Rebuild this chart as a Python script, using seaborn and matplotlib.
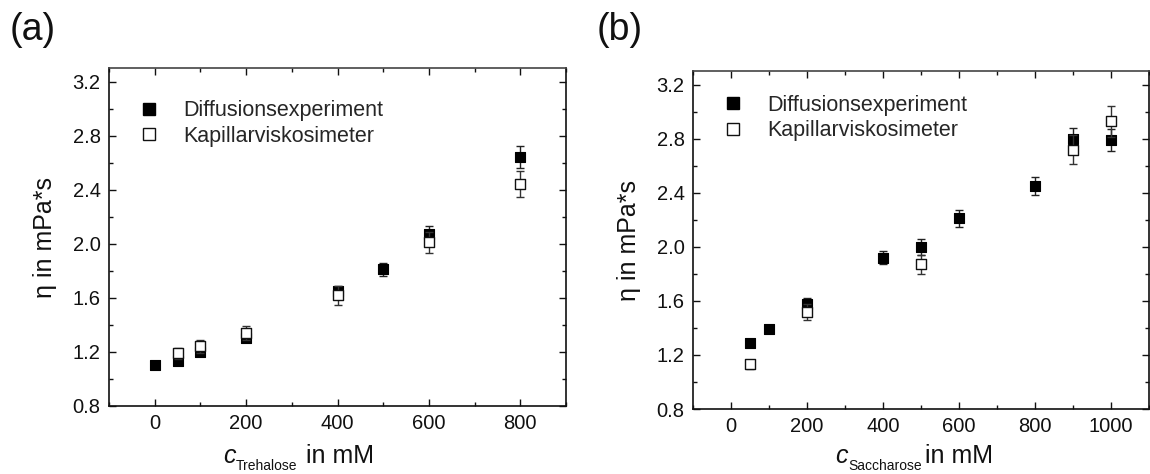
import matplotlib
matplotlib.use("Agg")
import matplotlib.pyplot as plt
from matplotlib.ticker import MultipleLocator
from matplotlib.lines import Line2D
import seaborn as sns
import pandas as pd

# ---- data (a) Trehalose ----
tre_diff_c = [0, 50, 100, 200, 400, 500, 600, 800]
tre_diff_eta = [1.10, 1.13, 1.20, 1.30, 1.65, 1.81, 2.07, 2.64]
tre_diff_err = [0.02, 0.02, 0.03, 0.03, 0.04, 0.05, 0.06, 0.08]
tre_kap_c = [50, 100, 200, 400, 600, 800]
tre_kap_eta = [1.19, 1.24, 1.34, 1.62, 2.01, 2.44]
tre_kap_err = [0.04, 0.05, 0.05, 0.07, 0.08, 0.095]

# ---- data (b) Saccharose ----
sac_diff_c = [50, 100, 200, 400, 500, 600, 800, 900, 1000]
sac_diff_eta = [1.29, 1.39, 1.58, 1.92, 2.00, 2.21, 2.45, 2.80, 2.79]
sac_diff_err = [0.03, 0.03, 0.04, 0.05, 0.06, 0.065, 0.07, 0.08, 0.08]
sac_kap_c = [50, 200, 500, 900, 1000]
sac_kap_eta = [1.13, 1.52, 1.87, 2.72, 2.93]
sac_kap_err = [0.03, 0.06, 0.07, 0.11, 0.115]

labels = ["Diffusionsexperiment", "Kapillarviskosimeter"]
ytick_vals = [0.8, 1.2, 1.6, 2.0, 2.4, 2.8, 3.2]
ytick_labels = ["0.8", "1.2", "1.6", "2.0", "2.4", "2.8", "3.2"]

sns.set_theme(style="ticks")
plt.rcParams["font.family"] = ["Liberation Sans", "DejaVu Sans"]

fig = plt.figure(figsize=(11.5, 4.74), dpi=100)
axA = fig.add_axes([0.0948, 0.1435, 0.3974, 0.713])
axB = fig.add_axes([0.6026, 0.137, 0.3965, 0.713])
renderer = fig.canvas.get_renderer()
PT = 72.0 / fig.dpi


def xlabel(ax, sub, x0, y0, gap):
    t_c = ax.text(x0, y0, "c", transform=ax.transAxes, fontsize=18,
                  style="italic", ha="left", va="baseline", color="#111111")
    w_c = t_c.get_window_extent(renderer).width
    t_s = ax.annotate(sub, xy=(x0, y0), xycoords="axes fraction",
                      xytext=(w_c * PT + 0.5, -5), textcoords="offset points",
                      fontsize=10, ha="left", va="baseline", color="#111111")
    w_s = t_s.get_window_extent(renderer).width
    ax.annotate("in mM", xy=(x0, y0), xycoords="axes fraction",
                xytext=((w_c + w_s + gap) * PT, 0), textcoords="offset points",
                fontsize=18, ha="left", va="baseline", color="#111111")


def panel(ax, dc, de, derr, kc, ke, kerr, xlim, sub, xl, legy):
    ddf = pd.DataFrame({"c": dc, "eta": de})
    kdf = pd.DataFrame({"c": kc, "eta": ke})
    ax.errorbar(dc, de, yerr=derr, fmt="none", ecolor="#222222", elinewidth=1.0,
                capsize=2.7, capthick=1.0, zorder=2)
    sns.scatterplot(data=ddf, x="c", y="eta", ax=ax, marker="s", s=60,
                    color="black", edgecolor="black", linewidth=0.8, zorder=3)
    ax.errorbar(kc, ke, yerr=kerr, fmt="none", ecolor="#333333", elinewidth=1.0,
                capsize=2.7, capthick=1.0, zorder=4)
    sns.scatterplot(data=kdf, x="c", y="eta", ax=ax, marker="s", s=52,
                    facecolor="white", edgecolor="#111111", linewidth=1.0, zorder=5)
    ax.set_xlim(*xlim)
    ax.set_ylim(0.8, 3.3)
    ax.xaxis.set_major_locator(MultipleLocator(200))
    ax.xaxis.set_minor_locator(MultipleLocator(100))
    ax.yaxis.set_minor_locator(MultipleLocator(0.2))
    ax.set_yticks(ytick_vals)
    ax.set_yticklabels(ytick_labels)
    ax.tick_params(which="both", direction="in", top=True, right=True,
                   labelsize=14.5, pad=6, colors="#111111")
    ax.tick_params(which="major", length=5, width=1.0)
    ax.tick_params(which="minor", length=3, width=1.0)
    for side in ["left", "bottom", "right"]:
        ax.spines[side].set_color("#111111")
        ax.spines[side].set_linewidth(1.2)
    ax.spines["top"].set_color("#444444")
    ax.spines["top"].set_linewidth(1.2)
    ax.set_xlabel("")
    xlabel(ax, sub, xl[0], xl[1], xl[2])
    ax.set_ylabel("η in mPa*s", fontsize=18, labelpad=11, color="#111111")
    handles = [
        Line2D([], [], marker="s", linestyle="none", markersize=8,
               markerfacecolor="black", markeredgecolor="black"),
        Line2D([], [], marker="s", linestyle="none", markersize=8,
               markerfacecolor="white", markeredgecolor="#111111"),
    ]
    ax.legend(handles, labels, loc="upper left", bbox_to_anchor=(0.045, legy),
              frameon=False, fontsize=15.5, handlelength=1.0, handletextpad=1.1,
              labelspacing=0.2, borderaxespad=0)


panel(axA, tre_diff_c, tre_diff_eta, tre_diff_err, tre_kap_c, tre_kap_eta,
      tre_kap_err, (-100, 900), "Trehalose", (0.2495, -0.1686, 9), 0.93)
panel(axB, sac_diff_c, sac_diff_eta, sac_diff_err, sac_kap_c, sac_kap_eta,
      sac_kap_err, (-100, 1100), "Saccharose", (0.311, -0.160, 4), 0.955)

fig.text(0.008, 0.975, "(a)", fontsize=27, va="top", ha="left", color="#111111")
fig.text(0.519, 0.975, "(b)", fontsize=27, va="top", ha="left", color="#111111")

fig.savefig("out.png", dpi=100)
